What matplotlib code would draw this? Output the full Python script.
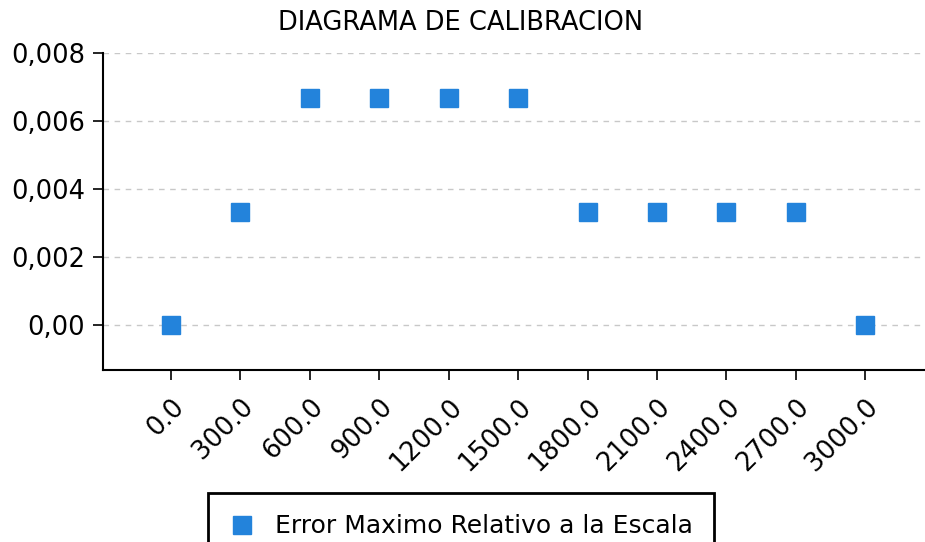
import matplotlib
matplotlib.use("Agg")
import matplotlib.pyplot as plt

# categories along the x axis (calibration points)
categorias = ["0.0", "300.0", "600.0", "900.0", "1200.0", "1500.0",
              "1800.0", "2100.0", "2400.0", "2700.0", "3000.0"]
# relative max error over full scale
error_rel = [0.0, 0.003333, 0.006667, 0.006667, 0.006667, 0.006667,
             0.003333, 0.003333, 0.003333, 0.003333, 0.0]
ytick_vals = [0.0, 0.002, 0.004, 0.006, 0.008]
ytick_labels = ["0,00", "0,002", "0,004", "0,006", "0,008"]

plt.rcParams["font.family"] = ["DejaVu Sans"]

W, H = 925, 542
fig = plt.figure(figsize=(W / 100, H / 100), dpi=100)
ax = fig.add_axes([103 / W, 1 - 370 / H, (925 - 103) / W, (370 - 53) / H])

x = list(range(len(categorias)))
ax.plot(x, error_rel, linestyle="none", marker="s", markersize=13,
        color="#2383db", label="Error Maximo Relativo a la Escala", zorder=3)

ax.set_xlim(-0.98, 10.86)
ax.set_ylim(-0.00132, 0.008)
ax.set_xticks(x)
ax.set_xticklabels(categorias, rotation=45, ha="right", rotation_mode="anchor",
                   fontsize=18.5)
ax.set_yticks(ytick_vals)
ax.set_yticklabels(ytick_labels, fontsize=18.5)
ax.tick_params(axis="both", length=7, width=1.2, direction="out", colors="black")
ax.tick_params(axis="x", pad=10)
ax.tick_params(axis="y", pad=6)

ax.grid(axis="y", linestyle=(0, (4, 4)), color="#c8c8c8", linewidth=1)
ax.set_axisbelow(True)
for s in ("top", "right"):
    ax.spines[s].set_visible(False)
for s in ("left", "bottom"):
    ax.spines[s].set_linewidth(1.5)

fig.text(461 / W, 1 - 23 / H, "DIAGRAMA DE CALIBRACION", ha="center",
         va="center", fontsize=18.5)

leg = fig.legend(loc="upper center", bbox_to_anchor=(461 / W, 1 - 493 / H),
                 fontsize=18, frameon=True, fancybox=False, framealpha=1,
                 handlelength=1.0, handletextpad=0.8, borderpad=0.85,
                 borderaxespad=0)
leg.get_frame().set_edgecolor("black")
leg.get_frame().set_linewidth(2)

fig.savefig("out.png", dpi=100)
